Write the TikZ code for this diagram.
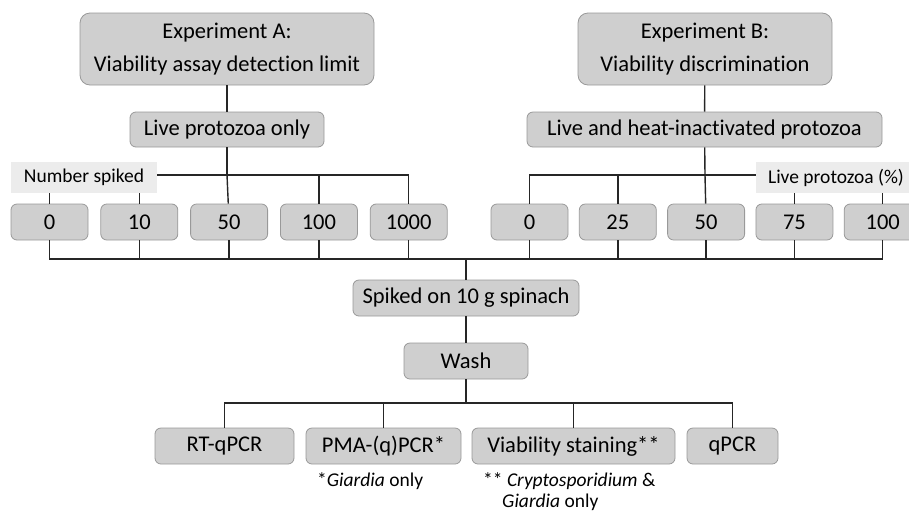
\documentclass[tikz,border=0pt]{standalone}
\usepackage{fontspec}
\setmainfont{Carlito}[Ligatures=NoCommon]
\usetikzlibrary{positioning}

\begin{document}
\begin{tikzpicture}[x=1pt, y=-1pt,
		every node/.style={font=\fontsize{22.5}{33}\selectfont},
		box/.style={draw=gray!80, fill=gray!38, line width=0.8pt, rounded corners=6pt, inner sep=0pt, minimum height=36pt},
		bigbox/.style={box, rounded corners=10pt, minimum height=72pt, align=center},
		tag/.style={fill=gray!15, inner sep=0pt, minimum height=31pt, font=\fontsize{19.5}{22}\selectfont},
		note/.style={anchor=west, inner sep=0pt, font=\fontsize{19.5}{24}\selectfont},
		link/.style={black!85, line width=1.4pt}]
		\useasboundingbox (0,0) rectangle (909,515);
		
		% experiment A
		\node[bigbox, minimum width=294pt] (expA) at (227,49) {Experiment A:\\Viability assay detection limit};
		\node[box, minimum width=194pt, minimum height=35pt] (liveA) at (227,129.5) {Live protozoa only};
		\node[box, minimum width=77pt] (a0) at (49.5,222) {0};
		\node[box, minimum width=77pt, right=12pt of a0] (a10) {10};
		\node[box, minimum width=77pt, right=12pt of a10] (a50) {50};
		\node[box, minimum width=77pt, right=12pt of a50] (a100) {100};
		\node[box, minimum width=77pt, right=12pt of a100] (a1000) {1000};
		
		% experiment B
		\node[bigbox, minimum width=254pt] (expB) at (705,49) {Experiment B:\\Viability discrimination};
		\node[box, minimum width=355pt, minimum height=35pt] (liveB) at (704.5,129.5) {Live and heat-inactivated protozoa};
		\node[box, minimum width=77pt] (b0) at (529.5,222) {0};
		\node[box, minimum width=77pt, right=10.5pt of b0] (b25) {25};
		\node[box, minimum width=77pt, right=10.5pt of b25] (b50) {50};
		\node[box, minimum width=77pt, right=10.5pt of b50] (b75) {75};
		\node[box, minimum width=77pt, right=10.5pt of b75] (b100) {100};
		
		% common steps
		\node[box, minimum width=226pt] (spiked) at (466,298) {Spiked on 10 g spinach};
		\node[box, minimum width=124pt] (wash) at (466,361) {Wash};
		\node[box, minimum width=139pt] (rt) at (224.5,446) {RT-qPCR};
		\node[box, minimum width=155pt] (pma) at (383.5,446) {PMA-(q)PCR*};
		\node[box, minimum width=203pt] (stain) at (573.5,446) {Viability staining**};
		\node[box, minimum width=91pt] (qpcr) at (732.5,446) {qPCR};
		
		\coordinate (forkA) at (227,175);
		\coordinate (forkB) at (705,175);
		\coordinate (join) at (466,259);
		\coordinate (forkW) at (466,403);
		
		\draw[link] (expA) -- (liveA);
		\draw[link] (liveA) -- (forkA);
		\draw[link] (forkA) -| (a0);
		\draw[link] (forkA) -| (a10);
		\draw[link] (forkA) -- (a50);
		\draw[link] (forkA) -| (a100);
		\draw[link] (forkA) -| (a1000);
		
		\draw[link] (expB) -- (liveB);
		\draw[link] (liveB) -- (forkB);
		\draw[link] (forkB) -| (b0);
		\draw[link] (forkB) -| (b25);
		\draw[link] (forkB) -- (b50);
		\draw[link] (forkB) -| (b75);
		\draw[link] (forkB) -| (b100);
		
		\draw[link] (a0) |- (join);
		\draw[link] (a10) |- (join);
		\draw[link] (a50) |- (join);
		\draw[link] (a100) |- (join);
		\draw[link] (a1000) |- (join);
		\draw[link] (b0) |- (join);
		\draw[link] (b25) |- (join);
		\draw[link] (b50) |- (join);
		\draw[link] (b75) |- (join);
		\draw[link] (b100) |- (join);
		\draw[link] (join) -- (spiked);
		\draw[link] (spiked) -- (wash);
		
		\draw[link] (wash) -- (forkW);
		\draw[link] (forkW) -| (rt);
		\draw[link] (forkW) -| (pma);
		\draw[link] (forkW) -| (stain);
		\draw[link] (forkW) -| (qpcr);
		
		% labels over the lines
		\node[tag, minimum width=146pt] (numtag) at (84,177.5) {Number spiked};
		\node[tag, minimum width=160pt] (pcttag) at (836,177.5) {Live protozoa (\%)};
		
		\node[note] (noteP) at (317,481) {*\textit{Giardia} only};
		\node[note] (noteS) at (483,481) {** \textit{Cryptosporidium} \&};
		\node[note] (noteG) at (502,502) {\textit{Giardia} only};
	\end{tikzpicture}
\end{document}
